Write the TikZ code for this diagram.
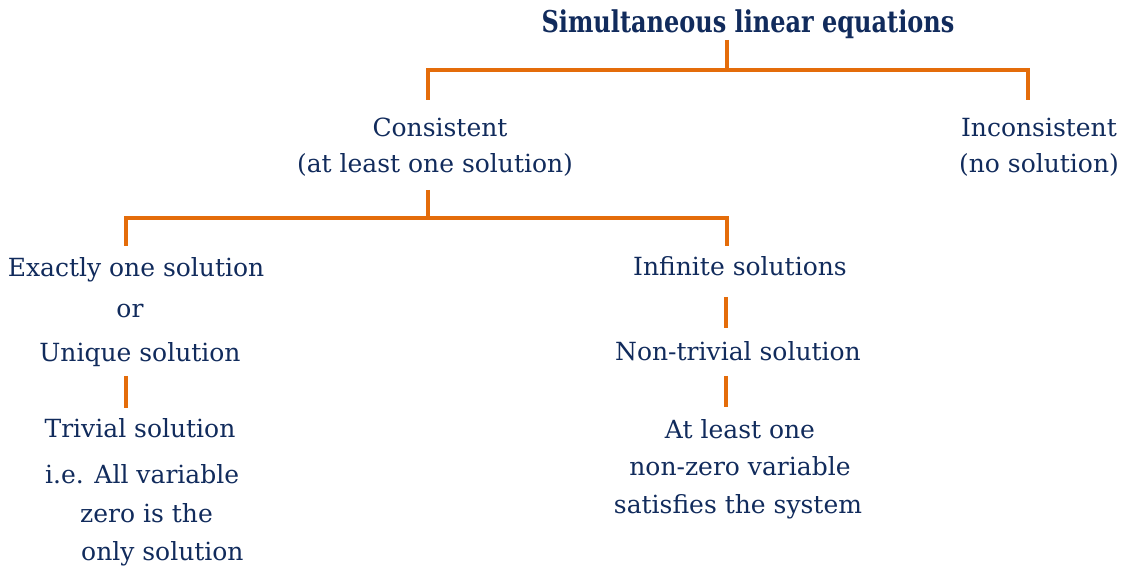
\documentclass[tikz,border=0pt]{standalone}
\usepackage{fontspec}
\setmainfont{DejaVu Serif}
\definecolor{navy}{HTML}{112B5C}
\definecolor{orng}{HTML}{E46C0A}
\newcommand{\ttltext}[1]{\scalebox{0.8}[1]{#1}}
\begin{document}
\begin{tikzpicture}[x=1pt,y=-1pt,
  txt/.style={text=navy,font=\fontsize{25}{30}\selectfont,anchor=base,inner sep=0pt},
  ttl/.style={text=navy,font=\fontsize{30}{36}\selectfont\bfseries,anchor=base,inner sep=0pt},
  conn/.style={draw=orng,line width=3.8pt}]
\useasboundingbox (0,0) rectangle (1125,569);
\node[ttl] (title) at (748,32.5) {\ttltext{Simultaneous linear equations}};
\node[txt] (cons1) at (440,137) {Consistent};
\node[txt] (cons2) at (435,173) {(at least one solution)};
\node[txt] (inc1) at (1039,137) {Inconsistent};
\node[txt] (inc2) at (1039,173) {(no solution)};
\node[txt] (ex1) at (136,277) {Exactly one solution};
\node[txt] (ex2) at (130,318) {or};
\node[txt] (ex3) at (140,362) {Unique solution};
\node[txt] (triv) at (140,437) {Trivial solution};
\node[txt,anchor=base west] (ie1) at (45,483) {i.e. All variable};
\node[txt,anchor=base west] (ie2) at (80,522) {zero is the};
\node[txt,anchor=base west] (ie3) at (81,560) {only solution};
\node[txt] (inf) at (740,276) {Infinite solutions};
\node[txt] (nt) at (738,360) {Non-trivial solution};
\node[txt] (al1) at (740,438) {At least one};
\node[txt] (al2) at (740,475) {non-zero variable};
\node[txt] (al3) at (738,513) {satisfies the system};
% connectors
\coordinate (t0) at (727,40);
\coordinate (t1) at (727,70);
\coordinate (tl) at (428,70);
\coordinate (tr) at (1028,70);
\coordinate (tlb) at (428,100);
\coordinate (trb) at (1028,100);
\draw[conn] (t0) -- (t1);
\draw[conn] (tlb) -- (tl) -- (tr) -- (trb);
\coordinate (c0) at (428,190);
\coordinate (c1) at (428,218);
\coordinate (cl) at (126,218);
\coordinate (cr) at (727,218);
\coordinate (clb) at (126,246);
\coordinate (crb) at (727,246);
\draw[conn] (c0) -- (c1);
\draw[conn] (clb) -- (cl) -- (cr) -- (crb);
\coordinate (u0) at (126,376);
\coordinate (u1) at (126,408);
\draw[conn] (u0) -- (u1);
\coordinate (i0) at (726,297);
\coordinate (i1) at (726,328);
\draw[conn] (i0) -- (i1);
\coordinate (n0) at (726,376);
\coordinate (n1) at (726,407);
\draw[conn] (n0) -- (n1);
\end{tikzpicture}
\end{document}
